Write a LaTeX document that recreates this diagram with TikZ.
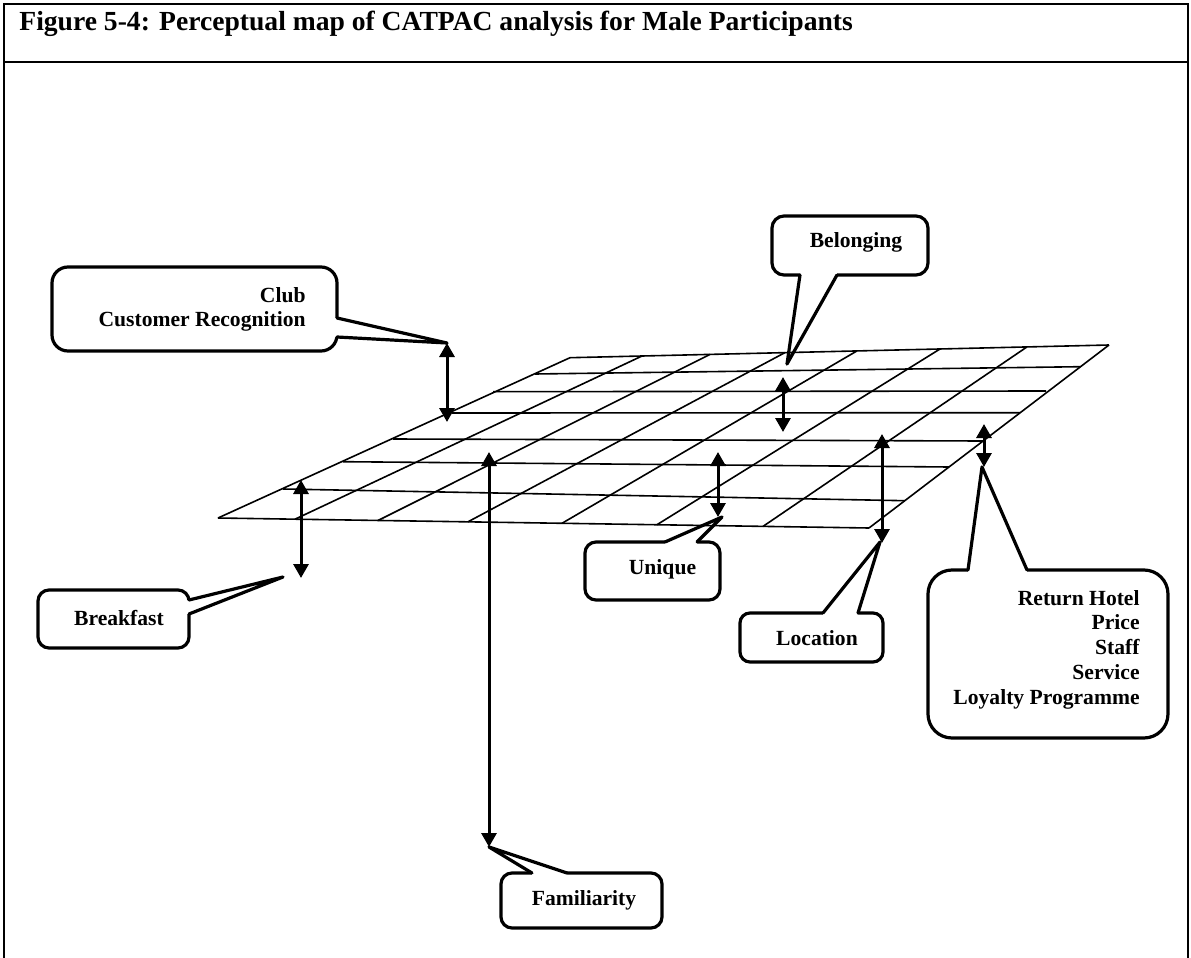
\documentclass[tikz,border=0pt]{standalone}
\usepackage{fontspec}
\setmainfont{Liberation Serif}
\usetikzlibrary{arrows.meta}

\tikzset{
  frameline/.style={line width=1.2pt},
  gridline/.style={line width=0.8pt},
  gaparrow/.style={line width=1.5pt,
    {Triangle[width=7.5pt,length=7pt]}-{Triangle[width=7.5pt,length=7pt]}},
  cbox/.style={draw, fill=white, line width=1.6pt, rounded corners=#1,
    inner sep=0pt},
  cbox/.default=5.5pt,
  wedgeline/.style={draw, line width=1.6pt, line join=round, line cap=round},
  lbl/.style={font=\bfseries\fontsize{10.8}{12.4}\selectfont, inner sep=0pt},
}

\begin{document}
\begin{tikzpicture}[x=0.5pt, y=-0.5pt]
\useasboundingbox (0,0) rectangle (1191,958);

% frame and caption
\draw[frameline] (4,958) -- (4,4) -- (1188,4) -- (1188,958);
\draw[frameline] (4,62) -- (1188,62);
\node[anchor=base west, inner sep=0pt, font=\bfseries\fontsize{13.8}{15}\selectfont]
  (title) at (19,31) {Figure 5-4: Perceptual map of CATPAC analysis for Male Participants};

% ends of the distance arrows
\coordinate (club-hi) at (447,343);   \coordinate (club-lo) at (447,422);
\coordinate (belong-hi) at (783,377); \coordinate (belong-lo) at (783,432);
\coordinate (uniq-hi) at (718,452);   \coordinate (uniq-lo) at (718,517);
\coordinate (loc-hi) at (882,434);    \coordinate (loc-lo) at (882,543);
\coordinate (ret-hi) at (984,424);    \coordinate (ret-lo) at (984,467);
\coordinate (bfast-hi) at (301,480);  \coordinate (bfast-lo) at (301,578);
\coordinate (fam-hi) at (489,452);    \coordinate (fam-lo) at (489,847);
\coordinate (bfast-tip) at (283,577);
\coordinate (belong-tip) at (787,364);

% ---- callouts ----
% Club / Customer Recognition
\node[cbox=8pt, minimum width=142.5pt, minimum height=42pt] (club) at (194.5,309) {};
\fill[white] (337,318) -- (club-hi) -- (337,337) -- (333,337) -- (333,318) -- cycle;
\draw[wedgeline] (337,318) -- (club-hi) -- (337,337);
\node[lbl, anchor=base east] (club-text) at (306,302)
  {\begin{tabular}[t]{@{}r@{}}Club\\Customer Recognition\end{tabular}};

% Breakfast
\node[cbox, minimum width=75.5pt, minimum height=29pt] (bfast) at (113.5,619) {};
\fill[white] (189,600) -- (bfast-tip) -- (189,614) -- (185,614) -- (185,600) -- cycle;
\draw[wedgeline] (189,600) -- (bfast-tip) -- (189,614);
\node[lbl, anchor=base] (bfast-text) at (119,625) {Breakfast};

% Familiarity
\node[cbox, minimum width=80.5pt, minimum height=27.5pt] (fam) at (581.5,900.5) {};
\fill[white] (532,873) -- (fam-lo) -- (567,873) -- (567,877) -- (532,877) -- cycle;
\draw[wedgeline] (532,873) -- (fam-lo) -- (567,873);
\node[lbl, anchor=base] (fam-text) at (584,905) {Familiarity};

% Unique
\node[cbox, minimum width=67.5pt, minimum height=29pt] (uniq) at (652.5,571) {};
\fill[white] (665,542) -- (722,517) -- (697,542) -- (697,546) -- (665,546) -- cycle;
\draw[wedgeline] (665,542) -- (722,517) -- (697,542);
\node[lbl, anchor=base] (uniq-text) at (662.5,574) {Unique};

% Location
\node[cbox=5pt, minimum width=71.5pt, minimum height=24.5pt] (loc) at (811.5,637.5) {};
\fill[white] (823,613) -- (880,542) -- (858,613) -- (858,617) -- (823,617) -- cycle;
\draw[wedgeline] (823,613) -- (880,542) -- (858,613);
\node[lbl, anchor=base] (loc-text) at (817,645) {Location};

% Return Hotel ...
\node[cbox=12pt, minimum width=120pt, minimum height=84pt] (ret) at (1048,654) {};
\fill[white] (968,570) -- (982,467) -- (1027,570) -- (1027,574) -- (968,574) -- cycle;
\draw[wedgeline] (968,570) -- (982,467) -- (1027,570);
\node[lbl, anchor=base east] (ret-text) at (1140,605)
  {\begin{tabular}[t]{@{}r@{}}Return Hotel\\Price\\Staff\\Service\\Loyalty Programme\end{tabular}};

% Belonging
\node[cbox=6pt, minimum width=78pt, minimum height=29.5pt] (belong) at (850,245.5) {};
\fill[white] (800,275) -- (belong-tip) -- (837,275) -- (837,271) -- (800,271) -- cycle;
\draw[wedgeline] (800,275) -- (belong-tip) -- (837,275);
\node[lbl, anchor=base] (belong-text) at (856,247) {Belonging};

% ---- perspective grid ----
% rows
\draw[gridline] (570,357.7) -- (1109,345);
\draw[gridline] (535,374) -- (1080.5,366.7);
\draw[gridline] (493,391.7) -- (1046,391);
\draw[gridline] (452,413) -- (1020,412.7);
\draw[gridline] (393,439) -- (983,441);
\draw[gridline] (343,461.7) -- (949,467);
\draw[gridline] (283,489) -- (905,500.7);
\draw[gridline] (218,518) -- (869,528);
% columns
\draw[gridline] (570,357.7) -- (218,518);
\draw[gridline] (642,356.0) -- (295,519.2);
\draw[gridline] (710,354.4) -- (378,520.5);
\draw[gridline] (785,352.6) -- (468,521.8);
\draw[gridline] (857,350.9) -- (562,523.3);
\draw[gridline] (940,349.0) -- (657,524.7);
\draw[gridline] (1027,346.9) -- (763,526.4);
\draw[gridline] (1109,345.0) -- (869,528);

% ---- distance arrows ----
\draw[gaparrow] (club-hi) -- (club-lo);
\draw[gaparrow] (belong-hi) -- (belong-lo);
\draw[gaparrow] (uniq-hi) -- (uniq-lo);
\draw[gaparrow] (loc-hi) -- (loc-lo);
\draw[gaparrow] (ret-hi) -- (ret-lo);
\draw[gaparrow] (bfast-hi) -- (bfast-lo);
\draw[gaparrow] (fam-hi) -- (fam-lo);
\end{tikzpicture}
\end{document}
